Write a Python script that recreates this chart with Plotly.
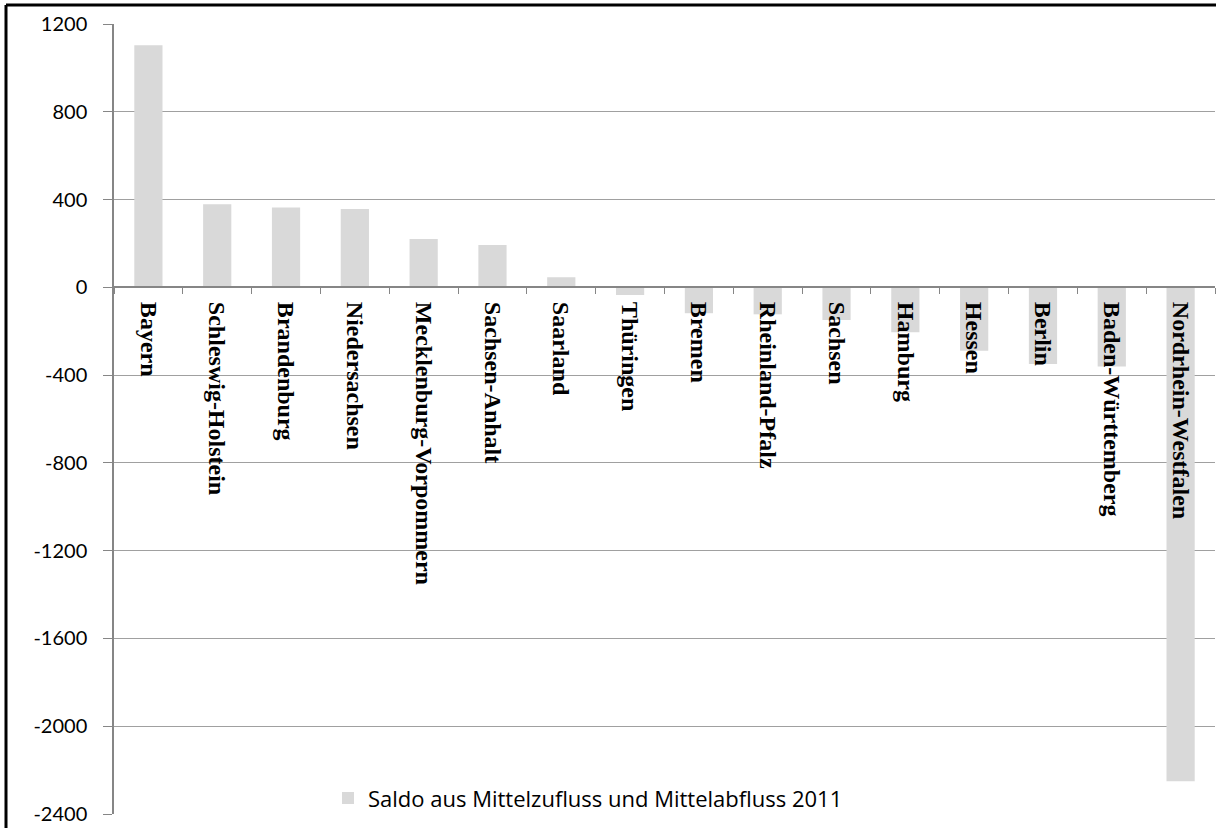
import plotly.graph_objects as go

laender = ["Bayern", "Schleswig-Holstein", "Brandenburg", "Niedersachsen",
           "Mecklenburg-Vorpommern", "Sachsen-Anhalt", "Saarland", "Thüringen",
           "Bremen", "Rheinland-Pfalz", "Sachsen", "Hamburg", "Hessen", "Berlin",
           "Baden-Württemberg", "Nordrhein-Westfalen"]
saldo = [1103, 379, 364, 357, 220, 193, 46, -35, -118, -123, -149, -205,
         -289, -349, -361, -2251]
y_ticks = [1200, 800, 400, 0, -400, -800, -1200, -1600, -2000, -2400]
series_name = "Saldo aus Mittelzufluss und Mittelabfluss 2011"

fig = go.Figure()
fig.add_trace(go.Bar(x=laender, y=saldo, name=series_name,
                     marker=dict(color="#d9d9d9", line=dict(width=0))))

ymin, ymax = -2400, 1200
zero_pos = (0 - ymin) / (ymax - ymin)

fig.update_layout(
    width=1216, height=828,
    margin=dict(l=114, r=1, t=24, b=14),
    paper_bgcolor="white", plot_bgcolor="white",
    bargap=0.59,
    showlegend=True,
    legend=dict(x=0.4305, xanchor="center", y=0.02, yanchor="middle",
                font=dict(family="Open Sans", size=22, color="#000000"),
                bgcolor="rgba(0,0,0,0)"),
    xaxis=dict(anchor="free", position=zero_pos, showline=True,
               linecolor="#868686", linewidth=1.5, ticks="outside",
               tickson="boundaries", ticklen=6, tickcolor="#868686",
               tickangle=90, showgrid=False,
               tickfont=dict(family="Liberation Serif", size=24,
                             color="#000000", weight="bold"),
               ticklabelstandoff=9),
    yaxis=dict(range=[ymin, ymax], tickvals=y_ticks,
               ticktext=[str(v) for v in y_ticks],
               showline=True, linecolor="#868686", linewidth=1.5,
               ticks="outside", ticklen=9, tickcolor="#868686",
               showgrid=True, gridcolor="#a0a0a0", gridwidth=1.3,
               zeroline=False,
               tickfont=dict(family="Lato", size=20, color="#000000"),
               ticklabelstandoff=12),
    shapes=[
        dict(type="line", xref="paper", yref="paper",
             x0=(6 - 114) / 1101, x1=1.01, y0=(814 - 5) / 790, y1=(814 - 5) / 790,
             line=dict(color="#000000", width=3)),
        dict(type="line", xref="paper", yref="paper",
             x0=(6 - 114) / 1101, x1=(6 - 114) / 1101,
             y0=-0.05, y1=(814 - 5) / 790,
             line=dict(color="#000000", width=3)),
    ],
)

fig.write_html("out.html",
               config={"displayModeBar": False},
               post_script="document.body.style.margin='0';document.body.style.overflow='hidden';")
